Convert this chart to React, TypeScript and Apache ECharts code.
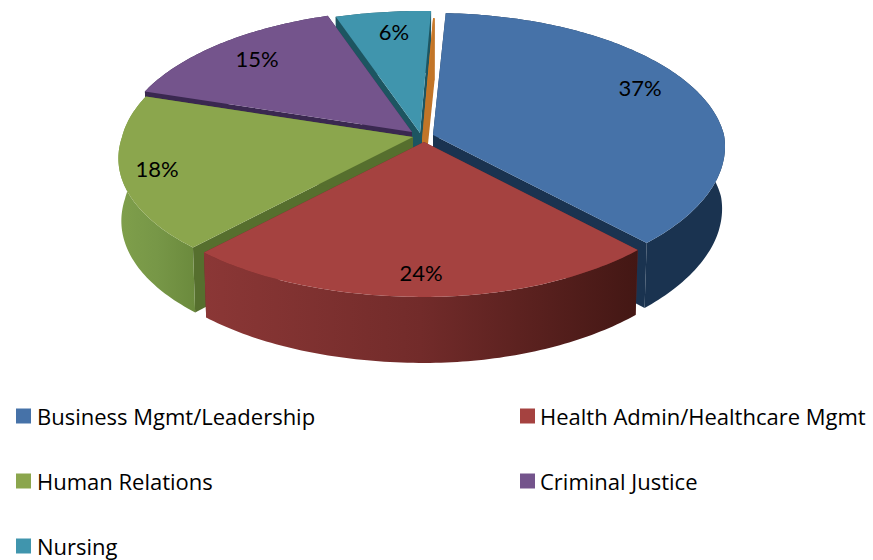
import React, { useEffect, useRef } from "react";
import * as echarts from "echarts";

// Shares of the pie, in percent (labels show their rounded values)
const names = ["Business Mgmt/Leadership", "Health Admin/Healthcare Mgmt", "Human Relations", "Criminal Justice", "Nursing", "Other"];
const values = [37.1, 23.9, 18.2, 14.8, 5.9, 0.1];
const labelled = [true, true, true, true, true, false];
const topColors = ["#4672a8", "#a54240", "#8ba64d", "#74548c", "#4095ad", "#cc7a2a"];
const cutColors = ["#1a3350", "#6e2a28", "#566f2e", "#3a2850", "#1d5561", "#c27528"];
const wallColors: [string, string, string][] = [
  ["#1a3350", "#1a3350", "#1a3350"],
  ["#8b3736", "#722b2a", "#431714"],
  ["#7f9f4b", "#779747", "#6b8a3d"],
  ["#3a2850", "#3a2850", "#3a2850"],
  ["#1d5561", "#1d5561", "#1d5561"],
  ["#c27528", "#c27528", "#c27528"],
];
const apexes = [[433, 135], [424, 142], [413, 137], [412, 132], [420, 133], [422, 140]];
const labelPositions = [[640, 87], [421, 272], [157, 168], [257, 58], [394, 31], [0, 0]];
const drawOrder = [4, 5, 3, 2, 0, 1];
const startAngle = 2.8;
const legendPlaces = [[16, 405], [520, 405], [16, 470], [520, 470], [16, 535]];
const legendTextGaps = [1, 0, 1, 0, 1];

const RX = 291, RY = 136.5, P = 0.119;

function rim(theta: number) {
  const t = (theta * Math.PI) / 180;
  const f = -Math.cos(t);
  const s = Math.sin(t);
  let x = (RX * s) / (1 - (f > 0 ? 0.7 : 1) * P * f);
  const y = (RY * f) / (1 - P * f);
  const n = ((theta % 360) + 360) % 360;
  if (n > 180 && n < 270) x -= 11 * Math.sin((2 * (n - 180) * Math.PI) / 180);
  return { x, y, f };
}

const total = values.reduce((a, b) => a + b, 0);

function sliceAngles(i: number) {
  let a = startAngle;
  for (let k = 0; k < i; k++) a += (values[k] / total) * 360;
  return [a, a + (values[i] / total) * 360];
}

function lower(ax: number, ay: number, p: { x: number; y: number; f: number }) {
  return [ax + p.x * (p.x < 0 ? 0.99 : 0.99), ay + p.y + 62 + 4 * Math.max(p.f, 0)];
}

function renderSlice(i: number) {
  const [a0, a1] = sliceAngles(i);
  const [ax, ay] = apexes[i];
  const steps = Math.max(2, Math.ceil(a1 - a0));
  const arc = [];
  for (let k = 0; k <= steps; k++) arc.push(rim(a0 + ((a1 - a0) * k) / steps));
  const upperPts = arc.map((p) => [ax + p.x, ay + p.y]);
  const lowerPts = arc.map((p) => lower(ax, ay, p));
  const apexLow = [ax, ay + 62];
  const cut = (p: { x: number; y: number; f: number }) => ({
    type: "polygon",
    shape: { points: [[ax, ay], [ax + p.x, ay + p.y], lower(ax, ay, p), apexLow] },
    style: { fill: cutColors[i] },
  });
  const children: any[] = [
    cut(arc[0]),
    cut(arc[arc.length - 1]),
    {
      type: "polygon",
      shape: { points: [...upperPts, ...lowerPts.slice().reverse()] },
      style: {
        fill: new echarts.graphic.LinearGradient(0, 0, 1, 0, [
          { offset: 0, color: wallColors[i][0] },
          { offset: 0.5, color: wallColors[i][1] },
          { offset: 1, color: wallColors[i][2] },
        ]),
      },
    },
    {
      type: "polygon",
      shape: { points: [[ax, ay], ...upperPts] },
      style: { fill: topColors[i] },
    },
  ];
  if (labelled[i]) {
    children.push({
      type: "text",
      x: labelPositions[i][0],
      y: labelPositions[i][1],
      z2: 100,
      style: {
        text: `${Math.round(values[i])}%`,
        font: "22px Lato",
        fill: "#000000",
        align: "center",
        verticalAlign: "middle",
      },
    });
  }
  return { type: "group", children };
}

export default function App() {
  const ref = useRef<HTMLDivElement>(null);
  useEffect(() => {
    if (!ref.current) return;
    const chart = echarts.init(ref.current, undefined, { renderer: "svg" });
    chart.setOption({
      animation: false,
      backgroundColor: "#ffffff",
      legend: legendPlaces.map(([left, top], i) => ({
        left,
        top,
        padding: 0,
        orient: "horizontal",
        selectedMode: false,
        itemWidth: 15,
        itemHeight: 15,
        icon: "rect",
        data: [names[i]],
        textStyle: { fontFamily: "Open Sans", fontSize: 22, color: "#000000", padding: [0, 0, 0, legendTextGaps[i]] },
      })),
      series: drawOrder.map((i, order) => ({
        type: "custom",
        name: names[i],
        coordinateSystem: "none",
        silent: true,
        z: 2 + order,
        itemStyle: { color: topColors[i] },
        data: [values[i]],
        renderItem: () => renderSlice(i),
      })),
    });
    return () => chart.dispose();
  }, []);
  return (
    <div
      ref={ref}
      style={{ position: "absolute", left: 0, top: 0, width: 873, height: 560, overflow: "hidden" }}
    />
  );
}
